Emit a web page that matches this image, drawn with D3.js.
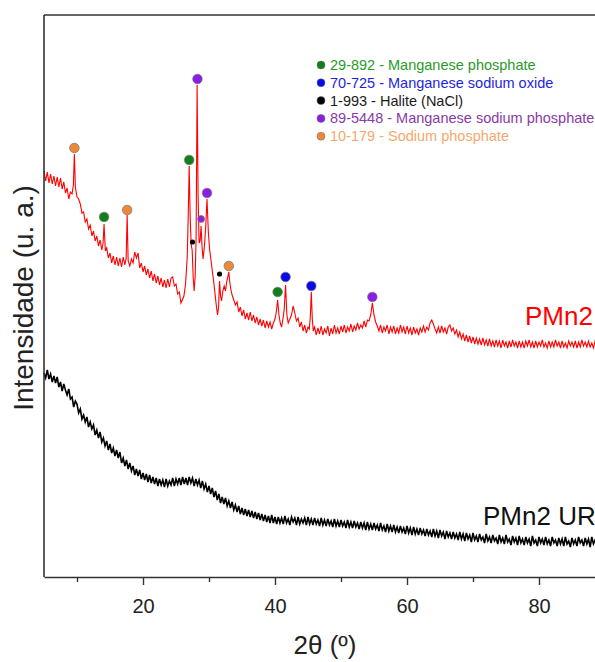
<!DOCTYPE html>
<html>
<head>
<meta charset="utf-8">
<script src="https://cdn.jsdelivr.net/npm/d3@7"></script>
<style>
  body { margin: 0; background: #fff; }
  svg { display: block; font-family: "Liberation Sans", Arial, sans-serif; }
</style>
</head>
<body>
<svg width="595" height="662"></svg>
<script>
// PMn2 pattern, [2theta, intensity (a.u.)]
const pmn2 = [
  [5.00,406],[5.25,396],[5.50,405],[5.75,394],[6.00,403],[6.25,393],[6.50,401],[6.75,391],[7.00,400],[7.25,390],
  [7.50,399],[7.75,388],[8.00,395],[8.25,384],[8.50,389],[8.75,378],[9.00,385],[9.25,383],[9.45,392],[9.60,423],
  [9.75,390],[10.00,380],[10.25,378],[10.50,373],[10.75,364],[11.00,365],[11.25,355],[11.50,358],[11.75,348],[12.00,352],
  [12.25,341],[12.50,346],[12.75,336],[13.00,341],[13.25,331],[13.50,337],[13.75,327],[13.95,334],[14.10,353],[14.30,326],
  [14.50,329],[14.75,319],[15.00,324],[15.25,314],[15.50,321],[15.75,312],[16.00,320],[16.25,311],[16.50,319],[16.75,310],
  [17.00,320],[17.25,312],[17.45,319],[17.60,362],[17.75,316],[18.00,311],[18.25,318],[18.50,314],[18.75,325],[19.00,319],
  [19.25,324],[19.50,309],[19.75,314],[20.00,305],[20.25,311],[20.50,302],[20.75,308],[21.00,299],[21.25,306],[21.50,296],
  [21.75,303],[22.00,294],[22.25,301],[22.50,292],[22.75,299],[23.00,290],[23.25,297],[23.50,289],[23.75,298],[24.00,290],
  [24.25,299],[24.50,300],[24.75,291],[25.00,293],[25.25,283],[25.50,285],[25.75,274],[25.95,277],[26.20,281],[26.45,293],
  [26.70,320],[26.85,360],[27.00,411],[27.15,360],[27.30,332],[27.45,327],[27.60,300],[27.75,286],[27.90,300],[28.05,340],
  [28.20,492],[28.35,380],[28.50,334],[28.65,336],[28.80,351],[28.95,330],[29.10,318],[29.30,330],[29.50,350],[29.70,378],
  [29.90,345],[30.10,327],[30.30,317],[30.50,306],[30.70,296],[30.90,284],[31.10,272],[31.30,262],[31.45,270],[31.60,296],
  [31.75,281],[31.90,276],[32.10,286],[32.30,291],[32.50,286],[32.70,296],[32.85,300],[33.00,305],[33.15,295],[33.30,288],
  [33.50,282],[33.75,277],[34.00,272],[34.25,275],[34.50,265],[34.75,270],[35.00,261],[35.25,267],[35.50,258],[35.75,264],
  [36.00,257],[36.25,265],[36.50,256],[36.75,262],[37.00,254],[37.25,260],[37.50,252],[37.75,258],[38.00,251],[38.25,257],
  [38.50,249],[38.75,256],[39.00,250],[39.25,255],[39.50,248],[39.75,254],[40.00,258],[40.20,265],[40.40,277],[40.60,262],
  [40.80,254],[41.00,250],[41.20,258],[41.40,268],[41.60,292],[41.80,262],[42.00,254],[42.25,258],[42.50,262],[42.75,271],
  [43.00,264],[43.25,256],[43.50,259],[43.75,250],[44.00,255],[44.25,246],[44.50,252],[44.75,244],[45.00,250],[45.20,248],
  [45.35,260],[45.50,285],[45.65,258],[45.80,246],[46.00,250],[46.25,242],[46.50,249],[46.75,243],[47.00,251],[47.25,242],
  [47.50,248],[47.75,244],[48.00,251],[48.25,241],[48.50,249],[48.75,243],[49.00,252],[49.25,244],[49.50,249],[49.75,243],
  [50.00,251],[50.25,245],[50.50,252],[50.75,244],[51.00,250],[51.25,246],[51.50,253],[51.75,245],[52.00,251],[52.25,247],
  [52.50,254],[52.75,248],[53.00,252],[53.25,249],[53.50,256],[53.75,250],[54.00,257],[54.25,256],[54.50,262],[54.75,274],
  [55.00,262],[55.25,255],[55.50,251],[55.75,246],[56.00,252],[56.25,244],[56.50,250],[56.75,246],[57.00,252],[57.25,243],
  [57.50,250],[57.75,245],[58.00,251],[58.25,243],[58.50,249],[58.75,244],[59.00,252],[59.25,245],[59.50,250],[59.75,243],
  [60.00,251],[60.25,244],[60.50,249],[60.75,242],[61.00,250],[61.25,244],[61.50,248],[61.75,242],[62.00,249],[62.25,245],
  [62.50,251],[62.75,245],[63.00,250],[63.25,247],[63.50,254],[63.75,257],[64.00,253],[64.25,248],[64.50,244],[64.75,250],
  [65.00,244],[65.25,251],[65.50,245],[65.75,249],[66.00,243],[66.25,250],[66.50,252],[66.75,246],[67.00,249],[67.25,243],
  [67.50,247],[67.75,240],[68.00,245],[68.25,238],[68.50,243],[68.75,236],[69.00,242],[69.25,235],[69.50,241],[69.75,234],
  [70.00,240],[70.25,233],[70.50,239],[70.75,233],[71.00,238],[71.25,232],[71.50,239],[71.75,232],[72.00,237],[72.25,231],
  [72.50,238],[72.75,231],[73.00,236],[73.25,230],[73.50,237],[73.75,231],[74.00,236],[74.25,229],[74.50,237],[74.75,231],
  [75.00,235],[75.25,229],[75.50,236],[75.75,230],[76.00,237],[76.25,231],[76.50,235],[76.75,229],[77.00,236],[77.25,230],
  [77.50,235],[77.75,229],[78.00,236],[78.25,231],[78.50,237],[78.75,230],[79.00,235],[79.25,229],[79.50,236],[79.75,230],
  [80.00,235],[80.25,231],[80.50,237],[80.75,230],[81.00,234],[81.25,229],[81.50,236],[81.75,230],[82.00,235],[82.25,230],
  [82.50,237],[82.75,231],[83.00,235],[83.25,229],[83.50,236],[83.75,230],[84.00,234],[84.25,229],[84.50,236],[84.75,231],
  [85.00,235],[85.25,230],[85.50,236],[85.75,229],[86.00,235],[86.25,230],[86.50,237],[86.75,231],[87.00,235],[87.25,230],
  [87.50,236],[87.75,230],[88.00,234],[88.25,229],[88.50,236],[88.75,231],[89.00,235],[89.25,230],[89.50,236],[89.75,231],
  [90.00,234]
];

// PMn2 UR pattern
const pmn2ur = [
  [5.00,204],[5.25,199],[5.50,207],[5.75,198],[6.00,203],[6.25,195],[6.50,201],[6.75,194],[7.00,200],[7.25,190],
  [7.50,195],[7.75,186],[8.00,193],[8.25,187],[8.50,182],[8.75,188],[9.00,178],[9.25,180],[9.50,170],[9.75,176],
  [10.00,173],[10.25,164],[10.50,168],[10.75,158],[11.00,162],[11.25,155],[11.50,160],[11.75,150],[12.00,155],[12.25,148],
  [12.50,152],[12.75,142],[13.00,147],[13.25,139],[13.50,145],[13.75,135],[14.00,139],[14.25,131],[14.50,136],[14.75,127],
  [15.00,133],[15.25,124],[15.50,129],[15.75,121],[16.00,127],[16.25,119],[16.50,125],[16.75,114],[17.00,119],[17.25,111],
  [17.50,117],[17.75,108],[18.00,114],[18.25,106],[18.50,111],[18.75,102],[19.00,108],[19.25,101],[19.50,107],[19.75,98],
  [20.00,104],[20.25,97],[20.50,103],[20.75,95],[21.00,102],[21.25,94],[21.50,100],[21.75,93],[22.00,99],[22.25,91],
  [22.50,98],[22.75,92],[23.00,97],[23.25,90],[23.50,98],[23.75,91],[24.00,96],[24.25,92],[24.50,99],[24.75,91],
  [25.00,98],[25.25,93],[25.50,99],[25.75,92],[26.00,100],[26.25,93],[26.50,99],[26.75,92],[27.00,100],[27.25,94],
  [27.50,99],[27.75,91],[28.00,98],[28.25,92],[28.50,97],[28.75,89],[29.00,96],[29.25,88],[29.50,93],[29.75,85],
  [30.00,91],[30.25,83],[30.50,89],[30.75,80],[31.00,86],[31.25,77],[31.50,83],[31.75,74],[32.00,80],[32.25,73],
  [32.50,79],[32.75,71],[33.00,76],[33.25,69],[33.50,75],[33.75,67],[34.00,72],[34.25,65],[34.50,71],[34.75,63],
  [35.00,69],[35.25,62],[35.50,68],[35.75,61],[36.00,67],[36.25,60],[36.50,66],[36.75,59],[37.00,65],[37.25,58],
  [37.50,64],[37.75,57],[38.00,63],[38.25,56],[38.50,62],[38.75,55],[39.00,61],[39.25,54],[39.50,62],[39.75,54],
  [40.00,60],[40.25,53],[40.50,60],[40.75,54],[41.00,59],[41.25,53],[41.50,61],[41.75,54],[42.00,58],[42.25,52],
  [42.50,60],[42.75,55],[43.00,59],[43.25,52],[43.50,60],[43.75,53],[44.00,58],[44.25,54],[44.50,59],[44.75,52],
  [45.00,60],[45.25,53],[45.50,58],[45.75,52],[46.00,59],[46.25,53],[46.50,57],[46.75,51],[47.00,59],[47.25,52],
  [47.50,57],[47.75,51],[48.00,58],[48.25,52],[48.50,56],[48.75,50],[49.00,58],[49.25,51],[49.50,56],[49.75,50],
  [50.00,57],[50.25,51],[50.50,55],[50.75,49],[51.00,57],[51.25,50],[51.50,55],[51.75,49],[52.00,56],[52.25,50],
  [52.50,54],[52.75,48],[53.00,55],[53.25,49],[53.50,54],[53.75,47],[54.00,55],[54.25,48],[54.50,53],[54.75,47],
  [55.00,54],[55.25,48],[55.50,52],[55.75,46],[56.00,54],[56.25,47],[56.50,51],[56.75,45],[57.00,53],[57.25,46],
  [57.50,51],[57.75,45],[58.00,52],[58.25,45],[58.50,50],[58.75,44],[59.00,51],[59.25,45],[59.50,49],[59.75,43],
  [60.00,51],[60.25,44],[60.50,49],[60.75,42],[61.00,50],[61.25,43],[61.50,48],[61.75,42],[62.00,49],[62.25,43],
  [62.50,47],[62.75,41],[63.00,48],[63.25,42],[63.50,46],[63.75,40],[64.00,48],[64.25,41],[64.50,46],[64.75,39],
  [65.00,47],[65.25,41],[65.50,45],[65.75,38],[66.00,46],[66.25,40],[66.50,44],[66.75,38],[67.00,45],[67.25,39],
  [67.50,43],[67.75,37],[68.00,45],[68.25,38],[68.50,43],[68.75,36],[69.00,44],[69.25,38],[69.50,42],[69.75,35],
  [70.00,44],[70.25,37],[70.50,41],[70.75,35],[71.00,43],[71.25,37],[71.50,40],[71.75,34],[72.00,43],[72.25,36],
  [72.50,40],[72.75,34],[73.00,42],[73.25,36],[73.50,39],[73.75,33],[74.00,42],[74.25,35],[74.50,39],[74.75,33],
  [75.00,42],[75.25,35],[75.50,38],[75.75,32],[76.00,41],[76.25,35],[76.50,39],[76.75,32],[77.00,41],[77.25,34],
  [77.50,38],[77.75,32],[78.00,40],[78.25,34],[78.50,38],[78.75,31],[79.00,41],[79.25,34],[79.50,37],[79.75,31],
  [80.00,40],[80.25,34],[80.50,38],[80.75,32],[81.00,40],[81.25,33],[81.50,37],[81.75,31],[82.00,40],[82.25,34],
  [82.50,37],[82.75,31],[83.00,39],[83.25,33],[83.50,38],[83.75,31],[84.00,40],[84.25,33],[84.50,36],[84.75,30],
  [85.00,39],[85.25,33],[85.50,37],[85.75,31],[86.00,40],[86.25,34],[86.50,37],[86.75,31],[87.00,39],[87.25,33],
  [87.50,38],[87.75,30],[88.00,40],[88.25,33],[88.50,37],[88.75,31],[89.00,39],[89.25,34],[89.50,37],[89.75,31],
  [90.00,38]
];

// phase legend
const phaseNames = [
  "29-892 - Manganese phosphate",
  "70-725 - Manganese sodium oxide",
  "1-993 - Halite (NaCl)",
  "89-5448 - Manganese sodium phosphate",
  "10-179 - Sodium phosphate"
];
const phaseDot = ["#12801a", "#0a0ae8", "#000000", "#8a1ee6", "#ec8838"];
const phaseText = ["#2a9a2a", "#1f1fe0", "#1a1a1a", "#8a3aa6", "#f6a86e"];

// identified peaks: [phase index, 2theta, marker height, size class]
const peaks = [
  [4, 9.6, 429, 0], [0, 14.1, 360, 0], [4, 17.6, 367, 0], [0, 27.0, 417, 0],
  [2, 27.5, 335, 1], [3, 28.25, 498, 0], [3, 28.8, 358, 2], [3, 29.7, 384, 0],
  [2, 31.6, 303, 1], [4, 33.0, 311, 0], [0, 40.4, 285, 0], [1, 41.6, 300, 0],
  [1, 45.5, 291, 0], [3, 54.75, 280, 0]
];

const xTicks = [20, 40, 60, 80];
const xMinor = [10, 30, 50, 70, 90];

const svg = d3.select("svg");
const m = { left: 44, top: 15, bottom: 577, right: 605 };

const x = d3.scaleLinear().domain([5, 90]).range([m.left, m.right]);
const y = d3.scaleLinear().domain([0, 562]).range([m.bottom, m.top]);

const line = d3.line().x(d => x(d[0])).y(d => y(d[1]));

svg.append("path").datum(pmn2ur)
  .attr("d", line).attr("fill", "none")
  .attr("stroke", "#000").attr("stroke-width", 1.6);

svg.append("path").datum(pmn2)
  .attr("d", line).attr("fill", "none")
  .attr("stroke", "#ff0000").attr("stroke-width", 1.1);

// peak markers
svg.selectAll(".peak").data(peaks).enter().append("circle")
  .attr("class", "peak")
  .attr("cx", d => x(d[1]))
  .attr("cy", d => y(d[2]))
  .attr("r", d => d[3] === 1 ? 2.6 : d[3] === 2 ? 3.5 : 4.8)
  .attr("fill", d => phaseDot[d[0]])
  .attr("stroke", d => d[3] === 1 ? "none" : "#777")
  .attr("stroke-width", 0.7);

// frame
svg.append("line").attr("x1", m.left).attr("x2", 595).attr("y1", m.top).attr("y2", m.top)
  .attr("stroke", "#333").attr("stroke-width", 1.6);
svg.append("line").attr("x1", m.left).attr("x2", m.left).attr("y1", m.top).attr("y2", m.bottom)
  .attr("stroke", "#333").attr("stroke-width", 1.6);

// x axis
const gx = svg.append("g").attr("transform", `translate(0,${m.bottom})`)
  .call(d3.axisBottom(x).tickValues(xTicks).tickSize(8).tickPadding(14).tickSizeOuter(0));
gx.select(".domain").attr("stroke", "#333").attr("stroke-width", 1.6);
gx.selectAll(".tick line").attr("stroke", "#333").attr("stroke-width", 1.4);
gx.selectAll("text").attr("font-size", 20).attr("fill", "#222")
  .attr("font-family", "Liberation Sans, Arial, sans-serif");

const gm = svg.append("g").attr("transform", `translate(0,${m.bottom})`)
  .call(d3.axisBottom(x).tickValues(xMinor).tickSize(5).tickFormat(""));
gm.select(".domain").remove();
gm.selectAll(".tick line").attr("stroke", "#333").attr("stroke-width", 1.4);

// axis titles
svg.append("text").attr("x", 325).attr("y", 654)
  .attr("text-anchor", "middle").attr("font-size", 26).attr("fill", "#222")
  .text("2θ (º)");

svg.append("text").attr("transform", "translate(33,298) rotate(-90)")
  .attr("text-anchor", "middle").attr("font-size", 28).attr("fill", "#222")
  .text("Intensidade (u. a.)");

// curve labels
svg.append("text").attr("x", 525).attr("y", 325)
  .attr("font-size", 26).attr("fill", "#ff0000").text("PMn2");
svg.append("text").attr("x", 483).attr("y", 525)
  .attr("font-size", 26).attr("fill", "#111").text("PMn2 UR");

// legend
const lg = svg.append("g").attr("transform", "translate(321,65)");
phaseNames.forEach((name, i) => {
  lg.append("circle").attr("cx", 0).attr("cy", i * 17.8).attr("r", 4)
    .attr("fill", phaseDot[i]).attr("stroke", "#666").attr("stroke-width", 0.5);
  lg.append("text").attr("x", 9).attr("y", i * 17.8 + 5)
    .attr("font-size", 14.5).attr("fill", phaseText[i]).text(name);
});
</script>
</body>
</html>
